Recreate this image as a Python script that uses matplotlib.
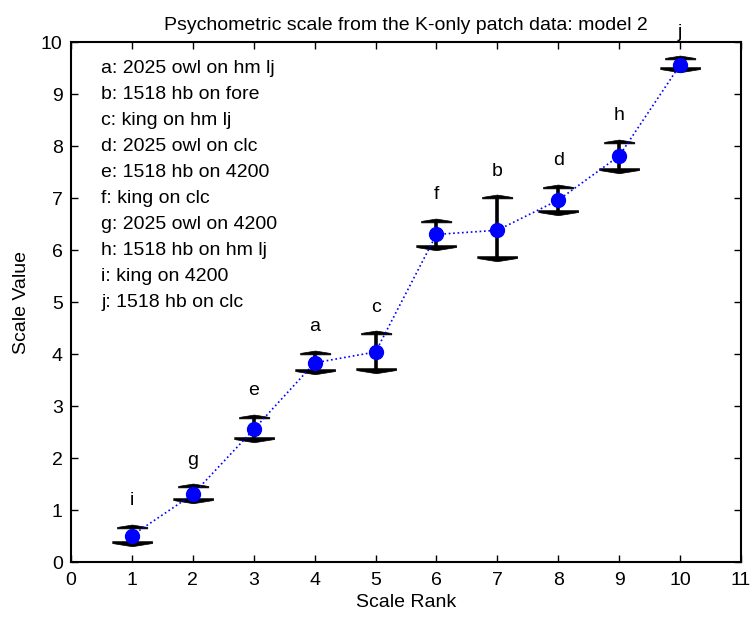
import numpy as np
import matplotlib
matplotlib.use('Agg')
import matplotlib.pyplot as plt

plt.rcParams['font.family'] = ['Liberation Sans', 'DejaVu Sans']

# data
rank = [1, 2, 3, 4, 5, 6, 7, 8, 9, 10]
value = [0.51, 1.30, 2.55, 3.83, 4.04, 6.30, 6.38, 6.96, 7.81, 9.56]
upper = [0.68, 1.46, 2.79, 4.02, 4.40, 6.56, 7.01, 7.22, 8.08, 9.69]
lower = [0.36, 1.19, 2.36, 3.67, 3.69, 6.06, 5.84, 6.74, 7.54, 9.48]
point_tags = ['i', 'g', 'e', 'a', 'c', 'f', 'b', 'd', 'h', 'j']
legend_lines = ['a: 2025 owl on hm lj', 'b: 1518 hb on fore', 'c: king on hm lj',
                'd: 2025 owl on clc', 'e: 1518 hb on 4200', 'f: king on clc',
                'g: 2025 owl on 4200', 'h: 1518 hb on hm lj', 'i: king on 4200',
                'j: 1518 hb on clc']

fig = plt.figure(figsize=(7.52, 6.17), dpi=100)
ax = fig.add_axes([0.0944, 0.0891, 0.891, 0.8428])

# error bars with MATLAB-ish thick caps
ax.vlines(rank, lower, upper, color='black', linewidth=2.6, zorder=2)
top_cap = [(-1, 0), (0, 0.16), (1, 0), (1, -0.09), (-1, -0.09)]
bot_cap = [(-1, 0), (0, -0.16), (1, 0), (1, 0.09), (-1, 0.09)]
ax.plot(rank, upper, linestyle='none', marker=top_cap, markersize=22,
        color='black', markeredgewidth=0.5, zorder=2)
ax.plot(rank, lower, linestyle='none', marker=bot_cap, markersize=29,
        color='black', markeredgewidth=0.5, zorder=2)

# the scale values
ax.plot(rank, value, ':', color='blue', linewidth=1.2, zorder=3)
ax.plot(rank, value, 'o', color='blue', markersize=10, zorder=4)

for r, u, t in zip(rank, upper, point_tags):
    ax.text(r, u + 0.5, t, ha='center', va='center', fontsize=14)

for i, s in enumerate(legend_lines):
    ax.text(0.5, 9.5 - 0.5 * i, s, ha='left', va='center', fontsize=14)

ax.set_xlim(0, 11)
ax.set_ylim(0, 10)
ax.set_xticks(range(0, 12))
ax.set_yticks(range(0, 11))
ax.tick_params(direction='in', top=True, right=True, length=5, width=1,
               labelsize=14)
ax.tick_params(axis='x', pad=7)
ax.tick_params(axis='y', pad=6)
for sp in ax.spines.values():
    sp.set_linewidth(1.5)

ax.set_title('Psychometric scale from the K-only patch data: model 2', fontsize=14, pad=9)
ax.set_xlabel('Scale Rank', fontsize=14, labelpad=4)
ax.set_ylabel('Scale Value', fontsize=14, labelpad=8)

plt.savefig('out.png', dpi=100)
